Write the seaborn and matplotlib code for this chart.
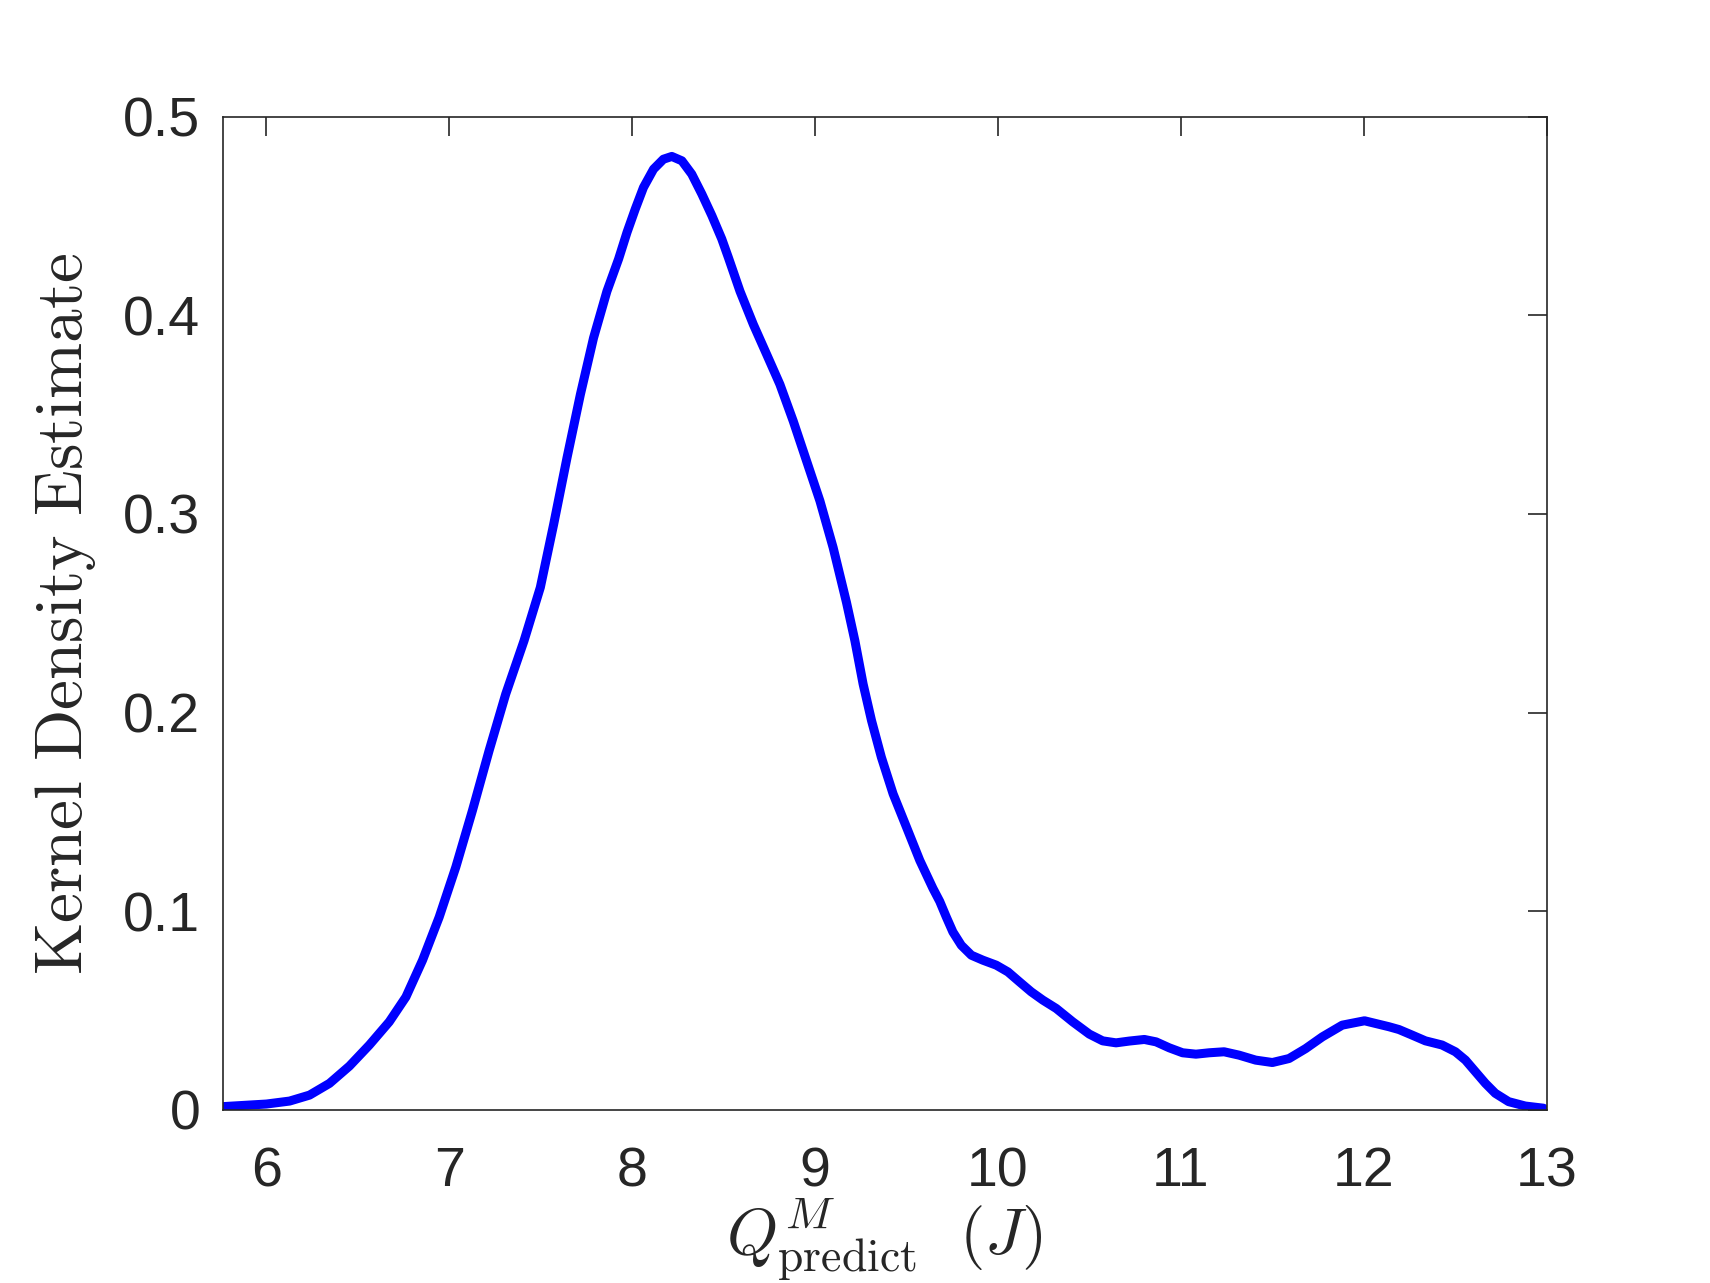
import numpy as np
import pandas as pd
import matplotlib
matplotlib.use('Agg')
import matplotlib.pyplot as plt
import seaborn as sns

# kernel density estimate
q_predict = [5.763, 6.0, 6.127, 6.236, 6.345, 6.454, 6.563, 6.672, 6.763, 6.854,
             6.945, 7.036, 7.127, 7.218, 7.309, 7.409, 7.498, 7.571, 7.644, 7.717,
             7.789, 7.862, 7.926, 7.972, 8.017, 8.062, 8.117, 8.171, 8.217, 8.272,
             8.326, 8.381, 8.436, 8.49, 8.526, 8.59, 8.663, 8.736, 8.808, 8.881,
             8.954, 9.027, 9.099, 9.172, 9.218, 9.263, 9.309, 9.363, 9.427, 9.5,
             9.573, 9.645, 9.682, 9.718, 9.754, 9.8, 9.855, 9.918, 9.991, 10.055,
             10.118, 10.182, 10.246, 10.319, 10.409, 10.5, 10.573, 10.646, 10.719, 10.801,
             10.865, 10.937, 11.01, 11.083, 11.156, 11.237, 11.319, 11.41, 11.501, 11.592,
             11.683, 11.774, 11.883, 12.005, 12.139, 12.193, 12.265, 12.338, 12.429, 12.502,
             12.557, 12.611, 12.666, 12.72, 12.793, 12.884, 12.984]
density = [0.0017, 0.003, 0.0045, 0.0075, 0.0134, 0.0221, 0.0327, 0.0444, 0.0569, 0.0754,
           0.0971, 0.1223, 0.1508, 0.1809, 0.2094, 0.2362, 0.263, 0.2948, 0.3283, 0.3601,
           0.3886, 0.412, 0.4283, 0.4417, 0.4534, 0.4643, 0.4735, 0.4785, 0.4799, 0.4777,
           0.471, 0.461, 0.4501, 0.4384, 0.4291, 0.412, 0.3953, 0.3802, 0.3652, 0.3467,
           0.3266, 0.3065, 0.2831, 0.2555, 0.2362, 0.2144, 0.196, 0.1775, 0.1591, 0.1424,
           0.1256, 0.1115, 0.105, 0.0971, 0.0896, 0.0829, 0.0779, 0.0754, 0.0729, 0.0695,
           0.0645, 0.0595, 0.0553, 0.0511, 0.0444, 0.0382, 0.0348, 0.0338, 0.0347, 0.0355,
           0.0343, 0.0313, 0.0288, 0.0281, 0.0288, 0.0293, 0.0276, 0.0251, 0.0239, 0.0259,
           0.0309, 0.0368, 0.0427, 0.0449, 0.0419, 0.0405, 0.0377, 0.0348, 0.0327, 0.0293,
           0.0251, 0.0193, 0.0134, 0.0084, 0.0042, 0.002, 0.0009]

x_ticks = [6, 7, 8, 9, 10, 11, 12, 13]
y_ticks = [0, 0.1, 0.2, 0.3, 0.4, 0.5]
y_tick_labels = ['0', '0.1', '0.2', '0.3', '0.4', '0.5']

df = pd.DataFrame({'q': q_predict, 'kde': density})

sns.set_theme(style='white')
plt.rcParams['font.family'] = ['Liberation Sans', 'DejaVu Sans']
plt.rcParams['mathtext.fontset'] = 'cm'

ink = '#262626'

fig = plt.figure(figsize=(17.1, 12.83), dpi=100)
ax = fig.add_axes([222.5 / 1710, 1 - 1110 / 1283, 1324 / 1710, (1110 - 116.5) / 1283])

sns.lineplot(data=df, x='q', y='kde', ax=ax, color='#0000ff', linewidth=6.5,
             estimator=None, sort=False)

ax.set_xlim(5.76, 13)
ax.set_ylim(0, 0.5)
ax.set_xticks(x_ticks)
ax.set_yticks(y_ticks)
ax.set_yticklabels(y_tick_labels)

ax.tick_params(axis='both', direction='in', top=True, right=True, length=14,
               width=1.2, color=ink, labelcolor=ink, labelsize=40)
ax.tick_params(axis='x', pad=26)
ax.tick_params(axis='y', pad=16)

for side in ['left', 'right', 'top', 'bottom']:
    ax.spines[side].set_visible(True)
    ax.spines[side].set_color(ink)
    ax.spines[side].set_linewidth(1.2)

ax.set_xlabel(r'$Q^{M}_{\mathrm{predict}}\ \ (J)$', fontsize=47, color=ink)
ax.set_ylabel(r'$\mathrm{Kernel\ Density\ Estimate}$', fontsize=48.5, color=ink)
ax.xaxis.set_label_coords(0.5, -0.088)
ax.yaxis.set_label_coords(-0.094, 0.5)

fig.savefig('out.png', dpi=100)
plt.close(fig)
